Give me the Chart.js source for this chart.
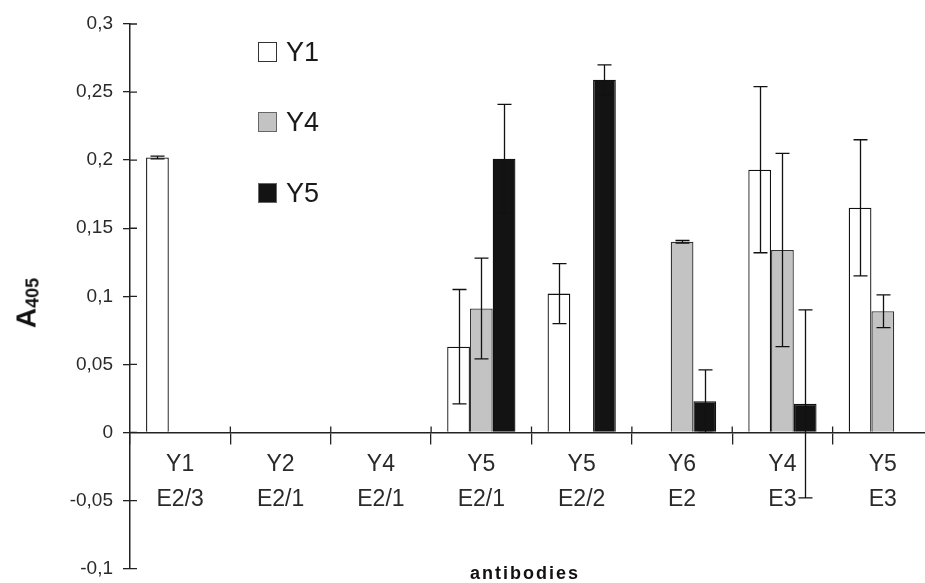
<!DOCTYPE html>
<html>
<head>
<meta charset="utf-8">
<script src="https://cdn.jsdelivr.net/npm/chart.js@4.4.1/dist/chart.umd.min.js"></script>
<style>
  html, body { margin: 0; padding: 0; overflow: hidden; background: #fff; width: 925px; height: 583px; }
  #wrap { position: relative; width: 940px; height: 590px; }
  #c { position: absolute; left: 0; top: 0; }
  .ytitle { position: absolute; left: 27px; top: 303px; transform: translate(-50%, -50%) rotate(-90deg);
    font-family: 'Liberation Sans', Arial, sans-serif; font-weight: bold; color: #111; white-space: nowrap; line-height: 1; }
  .ytitle .a { font-size: 28px; }
  .ytitle sub { font-size: 18px; vertical-align: -3px; }
  .xtitle { position: absolute; left: 525px; top: 563px; transform: translateX(-50%);
    font-family: 'Liberation Sans', Arial, sans-serif; font-weight: bold; font-size: 18px; letter-spacing: 2px;
    color: #111; line-height: 20px; white-space: nowrap; }
  #legend { position: absolute; left: 258px; top: 0; font-family: 'Liberation Sans', Arial, sans-serif; }
  .lrow { position: absolute; left: 0; height: 30px; display: flex; align-items: center; white-space: nowrap; }
  .lbox { width: 19px; height: 20px; border: 1px solid #333; box-sizing: border-box; margin-right: 9px; }
  .ltxt { font-size: 27px; color: #1a1a1a; line-height: 30px; }
</style>
</head>
<body>
<div id="wrap">
  <canvas id="c" width="940" height="590"></canvas>
  <div class="ytitle"><span class="a">A</span><sub>405</sub></div>
  <div class="xtitle">antibodies</div>
  <div id="legend"></div>
</div>
<script>
// ---- data ----
const categories = [['Y1','E2/3'],['Y2','E2/1'],['Y4','E2/1'],['Y5','E2/1'],['Y5','E2/2'],['Y6','E2'],['Y4','E3'],['Y5','E3']];
const seriesNames = ['Y1', 'Y4', 'Y5'];
const y1Values = [0.202, null, null, 0.063, 0.102, null, 0.193, 0.165];
const y1Errors = [0.001, 0, 0, 0.042, 0.022, 0, 0.061, 0.050];
const y4Values = [null, null, null, 0.091, null, 0.140, 0.134, 0.089];
const y4Errors = [0, 0, 0, 0.037, 0, 0.001, 0.071, 0.012];
const y5Values = [null, null, null, 0.201, 0.259, 0.023, 0.021, null];
const y5Errors = [0, 0, 0, 0.040, 0.011, 0.023, 0.069, 0];
const yTicks = [-0.1, -0.05, 0, 0.05, 0.1, 0.15, 0.2, 0.25, 0.3];
const yTickLabels = ['-0,1', '-0,05', '0', '0,05', '0,1', '0,15', '0,2', '0,25', '0,3'];

// ---- styles ----
const fills = ['#ffffff', '#c3c3c3', '#131313'];
const borders = ['#111111', '#333333', '#111111'];
const FONT = "'Liberation Sans', Arial, sans-serif";

const errorBars = {
  id: 'errorBars',
  afterDatasetsDraw(chart) {
    const ctx = chart.ctx, ys = chart.scales.y;
    ctx.save();
    ctx.strokeStyle = '#111';
    ctx.lineWidth = 1.3;
    chart.data.datasets.forEach((ds, di) => {
      const meta = chart.getDatasetMeta(di);
      meta.data.forEach((bar, i) => {
        const v = ds.data[i], e = ds.errors[i];
        if (v == null || !e) return;
        const x = Math.round(bar.x) + 0.5;
        const t = ys.getPixelForValue(v + e), b = ys.getPixelForValue(v - e);
        ctx.beginPath();
        ctx.moveTo(x, t); ctx.lineTo(x, b);
        ctx.moveTo(x - 7, t); ctx.lineTo(x + 7, t);
        ctx.moveTo(x - 7, b); ctx.lineTo(x + 7, b);
        ctx.stroke();
      });
    });
    ctx.restore();
  }
};

const crossTicks = {
  id: 'crossTicks',
  afterDraw(chart) {
    const ctx = chart.ctx, xs = chart.scales.x, ys = chart.scales.y;
    ctx.save();
    ctx.strokeStyle = '#222';
    ctx.lineWidth = 1.3;
    ctx.beginPath();
    ys.ticks.forEach((t, i) => {
      const py = ys.getPixelForTick(i);
      ctx.moveTo(ys.right, py); ctx.lineTo(ys.right + 7, py);
    });
    const y0 = ys.getPixelForValue(0);
    const n = xs.ticks.length;
    for (let i = 1; i < n; i++) {
      const px = (xs.getPixelForTick(i - 1) + xs.getPixelForTick(i)) / 2;
      ctx.moveTo(px, y0); ctx.lineTo(px, y0 - 6);
    }
    ctx.stroke();
    ctx.restore();
  }
};

const valueSets = [y1Values, y4Values, y5Values];
const errorSets = [y1Errors, y4Errors, y5Errors];

const chart = new Chart(document.getElementById('c'), {
  type: 'bar',
  data: {
    labels: categories,
    datasets: seriesNames.map((name, k) => ({
      label: name,
      data: valueSets[k],
      errors: errorSets[k],
      backgroundColor: fills[k],
      borderColor: borders[k],
      borderWidth: 1.3,
      borderSkipped: 'bottom',
      categoryPercentage: 0.68,
      barPercentage: 1.0
    }))
  },
  options: {
    responsive: false,
    animation: false,
    layout: { padding: { top: 24, bottom: 14, left: 0, right: 7 } },
    plugins: { legend: { display: false }, tooltip: { enabled: false } },
    scales: {
      x: {
        type: 'category',
        position: { y: 0 },
        offset: true,
        grid: { offset: true, drawOnChartArea: false, drawTicks: true, tickLength: 11, color: '#222', lineWidth: 1.3 },
        border: { display: true, color: '#222', width: 1.5 },
        ticks: { color: '#2a2a2a', font: { family: FONT, size: 23, lineHeight: 1.55 }, padding: 3, maxRotation: 0, autoSkip: false }
      },
      y: {
        position: 'left',
        min: -0.1,
        max: 0.3,
        afterBuildTicks(scale) { scale.ticks = yTicks.map(v => ({ value: v })); },
        afterFit(scale) { scale.width = 130; },
        grid: { drawOnChartArea: false, drawTicks: true, tickLength: 7, color: '#222', lineWidth: 1.3 },
        border: { display: true, color: '#222', width: 1.5 },
        ticks: {
          color: '#2a2a2a', padding: 10,
          font: { family: FONT, size: 19 },
          callback: (val, idx) => yTickLabels[idx]
        }
      }
    }
  },
  plugins: [errorBars, crossTicks]
});

// HTML legend built from the chart's datasets
const legendTops = [37, 107, 178];
const legend = document.getElementById('legend');
chart.data.datasets.forEach((ds, k) => {
  const row = document.createElement('div');
  row.className = 'lrow';
  row.style.top = legendTops[k] + 'px';
  const box = document.createElement('div');
  box.className = 'lbox';
  box.style.background = ds.backgroundColor;
  box.style.borderColor = k === 0 ? '#333' : '#666';
  const txt = document.createElement('span');
  txt.className = 'ltxt';
  txt.textContent = ds.label;
  row.appendChild(box); row.appendChild(txt);
  legend.appendChild(row);
});
</script>
</body>
</html>
